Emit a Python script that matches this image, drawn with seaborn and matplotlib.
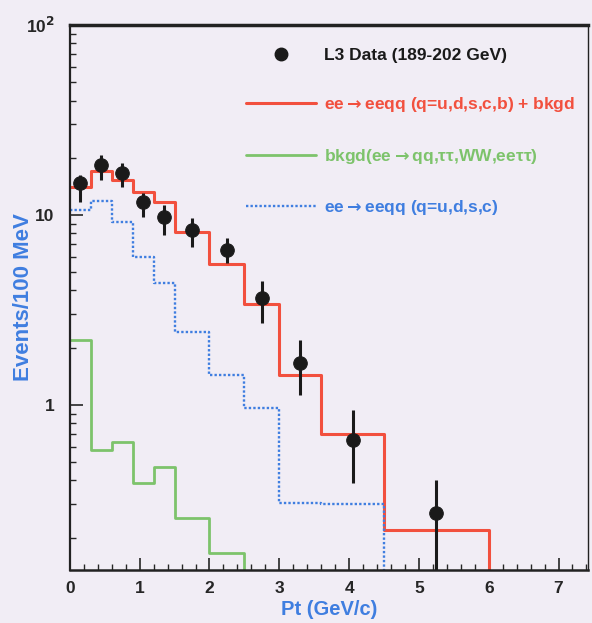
import numpy as np
import pandas as pd
import seaborn as sns
import matplotlib
matplotlib.use("Agg")
import matplotlib.pyplot as plt
from matplotlib.lines import Line2D
from matplotlib.ticker import FixedLocator, FixedFormatter, MultipleLocator, LogLocator, NullFormatter

# ---- data ----
bin_edges = [0.0, 0.3, 0.6, 0.9, 1.2, 1.5, 2.0, 2.5, 3.0, 3.6, 4.5, 6.0, 7.5]
total_mc = [14.0, 17.0, 15.3, 13.2, 11.7, 8.1, 5.5, 3.4, 1.44, 0.70, 0.22, 0.0]
signal_udsc = [10.6, 11.8, 9.2, 6.0, 4.4, 2.42, 1.44, 0.96, 0.305, 0.30, 0.0, 0.0]
background = [2.2, 0.58, 0.64, 0.39, 0.47, 0.254, 0.166, 0.0, 0.0, 0.0, 0.0, 0.0]

data_x = [0.15, 0.45, 0.75, 1.05, 1.35, 1.75, 2.25, 2.75, 3.3, 4.05, 5.25]
data_y = [14.7, 18.3, 16.6, 11.7, 9.7, 8.3, 6.5, 3.66, 1.66, 0.65, 0.27]
data_hi = [16.2, 20.6, 18.8, 13.0, 11.3, 9.6, 7.6, 4.5, 2.2, 0.94, 0.40]
data_lo = [11.7, 15.3, 14.0, 9.8, 7.8, 6.8, 5.6, 2.7, 1.13, 0.39, 0.12]

legend_labels = ["L3 Data (189-202 GeV)",
                 "ee$\\rightarrow$eeqq (q=u,d,s,c,b) + bkgd",
                 "bkgd(ee$\\rightarrow$qq,\u03c4\u03c4,WW,ee\u03c4\u03c4)",
                 "ee$\\rightarrow$eeqq (q=u,d,s,c)"]

# ---- style ----
bg = "#f1edf5"
red = "#f2503e"
green = "#7dc36b"
blue = "#3f7ee0"
sns.set_style("ticks")
plt.rcParams["font.family"] = ["Liberation Sans", "DejaVu Sans"]
plt.rcParams["mathtext.default"] = "bf"

fig = plt.figure(figsize=(5.92, 6.23), dpi=100, facecolor=bg)
ax = fig.add_axes([0.118, 0.085, 0.875, 0.875])
ax.set_facecolor(bg)

centers = [(a + b) / 2 for a, b in zip(bin_edges[:-1], bin_edges[1:])]
df = pd.DataFrame({"x": centers, "tot": total_mc, "sig": signal_udsc, "bkg": background})

dotted = (0, (1.0, 0.9))
sns.histplot(data=df, x="x", weights="tot", bins=bin_edges, element="step", fill=False,
             color=red, linewidth=2.2, ax=ax)
sns.histplot(data=df, x="x", weights="sig", bins=bin_edges, element="step", fill=False,
             color=blue, linewidth=1.7, linestyle=dotted, ax=ax)
sns.histplot(data=df, x="x", weights="bkg", bins=bin_edges, element="step", fill=False,
             color=green, linewidth=2.0, ax=ax)

ax.set_yscale("log")
dy = np.array(data_y)
yerr = [dy - np.array(data_lo), np.array(data_hi) - dy]
ax.errorbar(data_x, data_y, yerr=yerr, fmt="none", ecolor="#1a1a1a", elinewidth=2.2, zorder=5)
sns.scatterplot(x=data_x, y=data_y, color="#1a1a1a", s=95, edgecolor="#1a1a1a", zorder=6, ax=ax)

ax.set_xlim(0, 7.42)
ax.set_ylim(0.135, 100)

# ticks
ax.xaxis.set_major_locator(MultipleLocator(1))
ax.xaxis.set_minor_locator(MultipleLocator(0.2))
ax.yaxis.set_major_locator(FixedLocator([1, 10, 100]))
ax.yaxis.set_major_formatter(FixedFormatter(["1", "10", "10$^{2}$"]))
ax.yaxis.set_minor_locator(LogLocator(base=10, subs=np.arange(2, 10)))
ax.yaxis.set_minor_formatter(NullFormatter())
ax.tick_params(axis="both", which="major", direction="in", length=9, width=1.2,
               labelsize=12.5, top=False, right=False)
ax.tick_params(axis="both", which="minor", direction="in", length=4, width=1.0)
for lab in ax.get_xticklabels() + ax.get_yticklabels():
    lab.set_fontweight("bold")
ax.tick_params(axis="y", pad=11)
ax.tick_params(axis="x", pad=8)

for side in ["left", "bottom", "top", "right"]:
    ax.spines[side].set_visible(True)
    ax.spines[side].set_color("#222222")
ax.spines["top"].set_linewidth(2.5)
ax.spines["left"].set_linewidth(1.6)
ax.spines["bottom"].set_linewidth(1.8)
ax.spines["right"].set_linewidth(1.0)

ax.set_xlabel("Pt (GeV/c)", color=blue, fontsize=14.5, fontweight="bold")
ax.xaxis.set_label_coords(0.5, -0.055)
ax.set_ylabel("Events/100 MeV", color=blue, fontsize=16, fontweight="bold")
ax.yaxis.set_label_coords(-0.07, 0.50)

handles = [
    Line2D([], [], marker="o", linestyle="none", color="#1a1a1a", markersize=9),
    Line2D([], [], color=red, linewidth=2.2),
    Line2D([], [], color=green, linewidth=2.0),
    Line2D([], [], color=blue, linewidth=1.7, linestyle=dotted),
]
leg = ax.legend(handles, legend_labels, loc="upper left", bbox_to_anchor=(0.327, 0.97),
                frameon=False, handlelength=4.0, handletextpad=0.5, labelspacing=1.85,
                borderaxespad=0.0, prop={"weight": "bold", "size": 12.5})
for txt, c in zip(leg.get_texts(), ["#1a1a1a", red, green, blue]):
    txt.set_color(c)

fig.savefig("out.png", dpi=100, facecolor=bg)
